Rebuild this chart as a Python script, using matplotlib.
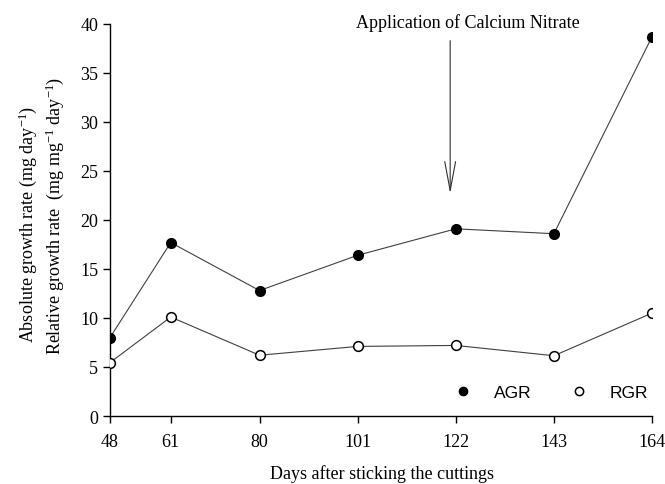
import matplotlib
matplotlib.use("Agg")
from matplotlib import pyplot as plt

# days after sticking the cuttings
days = [48, 61, 80, 101, 122, 143, 164]
agr = [8.0, 17.7, 12.8, 16.4, 19.1, 18.6, 38.7]
rgr = [5.45, 10.1, 6.2, 7.1, 7.2, 6.15, 10.5]
y_ticks = [0, 5, 10, 15, 20, 25, 30, 35, 40]

plt.rcParams['font.family'] = ['Liberation Serif', 'DejaVu Serif']
plt.rcParams['mathtext.fontset'] = 'custom'
plt.rcParams['mathtext.rm'] = 'Liberation Serif'
plt.rcParams['mathtext.it'] = 'Liberation Serif:italic'
plt.rcParams['font.size'] = 13

fig = plt.figure(figsize=(6.65, 4.85), dpi=100)
ax = fig.add_axes([0.1654, 0.1402, 0.8151, 0.8083])

line_col = '#404040'
ax.plot(days, agr, color=line_col, lw=0.8, marker='o', ms=7,
        mfc='black', mec='black', label='AGR', zorder=3)
ax.plot(days, rgr, color=line_col, lw=0.8, marker='o', ms=7,
        mfc='white', mec='black', mew=1.1, label='RGR', zorder=3)

ax.set_xlim(48, 164)
ax.set_ylim(0, 40)
ax.set_xticks(days)
ax.set_yticks(y_ticks)
ax.spines['top'].set_visible(False)
ax.spines['right'].set_visible(False)
ax.spines['left'].set_linewidth(1.0)
ax.spines['bottom'].set_linewidth(1.0)
ax.tick_params(direction='out', length=5, width=1.0, labelsize=13)
ax.tick_params(axis='x', pad=7)

fig.text(0.574, 0.004, 'Days after sticking the cuttings',
         ha='center', va='bottom', fontsize=13)

# two-line y label
fig.text(0.041, 0.293, r'Absolute growth rate (mg day$^{-1}$)',
         rotation=90, ha='center', va='bottom', fontsize=13)
fig.text(0.083, 0.268, r'Relative growth rate  (mg mg$^{-1}$ day$^{-1}$)',
         rotation=90, ha='center', va='bottom', fontsize=13)

# annotation arrow
ax.annotate('', xy=(120.8, 22.7), xytext=(120.8, 38.3),
            arrowprops=dict(arrowstyle='->, head_length=1.6, head_width=0.3',
                            color='#303030', lw=0.8,
                            shrinkA=0, shrinkB=0))
ax.text(124.6, 40.2, 'Application of Calcium Nitrate', ha='center',
        va='center', fontsize=13)

leg = ax.legend(loc='lower right', ncol=2, frameon=False,
                bbox_to_anchor=(1.022, 0.0), handlelength=0.8,
                columnspacing=2.3, handletextpad=1.4,
                markerscale=0.85,
                prop={'family': 'Liberation Sans', 'size': 12.5})
for h in leg.legend_handles:
    h.set_linestyle('none')

fig.savefig('out.png', dpi=100)
